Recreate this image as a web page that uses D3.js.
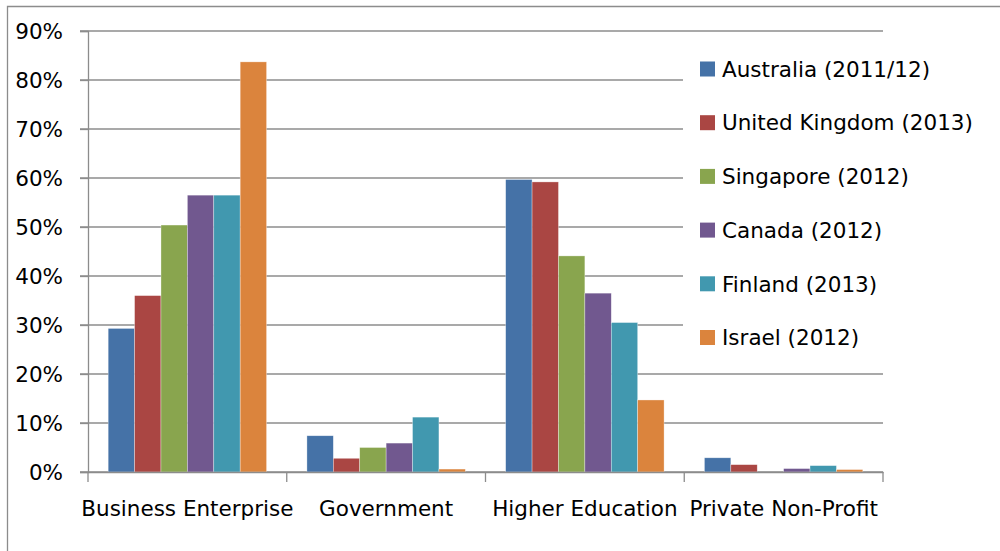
<!DOCTYPE html>
<html>
<head>
<meta charset="utf-8">
<script src="https://cdn.jsdelivr.net/npm/d3@7"></script>
<style>
  html, body { margin: 0; padding: 0; background: #fff; }
  svg { display: block; }
  text { font-family: "DejaVu Sans", sans-serif; fill: #000; }
</style>
</head>
<body>
<svg id="chart" width="1000" height="551"></svg>
<script>
// R&D expenditure share by sector of performance
const categories = ["Business Enterprise", "Government", "Higher Education", "Private Non-Profit"];
const seriesNames = ["Australia (2011/12)", "United Kingdom (2013)", "Singapore (2012)", "Canada (2012)", "Finland (2013)", "Israel (2012)"];
const seriesColors = ["#4572A7", "#AA4643", "#89A54E", "#71588F", "#4198AF", "#DB843D"];

// one value per category, in the order of `categories` (null = not reported)
const australia = [0.293, 0.074, 0.597, 0.029];
const unitedKingdom = [0.360, 0.028, 0.592, 0.015];
const singapore = [0.504, 0.050, 0.441, null];
const canada = [0.565, 0.059, 0.365, 0.007];
const finland = [0.565, 0.112, 0.305, 0.013];
const israel = [0.837, 0.006, 0.147, 0.005];
const seriesValues = [australia, unitedKingdom, singapore, canada, finland, israel];

const yTicks = [0, 0.1, 0.2, 0.3, 0.4, 0.5, 0.6, 0.7, 0.8, 0.9];

const svg = d3.select("#chart");
const fontSize = 21.5;
const gridColor = "#8c8c8c";

const plot = { left: 88, right: 883, top: 31, bottom: 472 };

// chart frame
svg.append("path")
  .attr("d", "M7.5,560 V6.5 H1010")
  .attr("fill", "none")
  .attr("stroke", gridColor)
  .attr("stroke-width", 1.3);

const x0 = d3.scaleBand()
  .domain(categories)
  .range([plot.left, plot.right])
  .paddingInner(0)
  .paddingOuter(0);

const x1 = d3.scaleBand()
  .domain(seriesNames)
  .range([0, x0.bandwidth()])
  .paddingInner(0)
  .paddingOuter(0.764);

const y = d3.scaleLinear()
  .domain([0, 0.9])
  .range([plot.bottom, plot.top]);

// horizontal gridlines
svg.append("g")
  .selectAll("line")
  .data(yTicks)
  .join("line")
  .attr("x1", plot.left - 8)
  .attr("x2", plot.right)
  .attr("y1", d => y(d))
  .attr("y2", d => y(d))
  .attr("stroke", gridColor)
  .attr("stroke-width", 1.3);

// y axis
const yAxis = svg.append("g")
  .attr("transform", `translate(${plot.left},0)`)
  .call(d3.axisLeft(y).tickValues(yTicks).tickFormat(d3.format(".0%")).tickSize(8).tickPadding(17));
yAxis.select(".domain").attr("stroke", gridColor).attr("stroke-width", 1.3);
yAxis.selectAll(".tick line").attr("stroke", gridColor).attr("stroke-width", 1.3);
yAxis.selectAll(".tick text")
  .attr("font-family", "DejaVu Sans, sans-serif")
  .attr("font-size", fontSize)
  .attr("fill", "#000")
  .attr("dy", "0.36em");

// bars
const groups = svg.append("g")
  .selectAll("g")
  .data(categories)
  .join("g")
  .attr("transform", d => `translate(${x0(d)},0)`);

groups.selectAll("rect")
  .data((cat, ci) => seriesNames.map((name, si) => ({ name, si, v: seriesValues[si][ci] })).filter(d => d.v !== null))
  .join("rect")
  .attr("x", d => x1(d.name))
  .attr("width", x1.bandwidth())
  .attr("y", d => y(d.v))
  .attr("height", d => y(0) - y(d.v))
  .attr("fill", d => seriesColors[d.si])
  .attr("stroke", "rgba(255,255,255,0.55)")
  .attr("stroke-width", 0.6);

// x axis
const xAxis = svg.append("g")
  .attr("transform", `translate(0,${plot.bottom})`)
  .call(d3.axisBottom(x0).tickSize(0).tickPadding(29));
xAxis.select(".domain").attr("stroke", gridColor).attr("stroke-width", 1.3);
xAxis.selectAll(".tick text")
  .attr("font-family", "DejaVu Sans, sans-serif")
  .attr("font-size", fontSize)
  .attr("fill", "#000");

// category separators below the axis
const boundaries = categories.map(c => x0(c)).concat([x0.range()[1]]);
svg.append("g")
  .selectAll("line")
  .data(boundaries)
  .join("line")
  .attr("x1", d => d)
  .attr("x2", d => d)
  .attr("y1", plot.bottom)
  .attr("y2", plot.bottom + 10)
  .attr("stroke", gridColor)
  .attr("stroke-width", 1.3);

// legend
const legend = svg.append("g");
legend.append("rect")
  .attr("x", 683).attr("y", 42)
  .attr("width", 210).attr("height", 316)
  .attr("fill", "#fff");

const rowY = d3.scalePoint()
  .domain(seriesNames)
  .range([69, 337.5]);

const items = legend.selectAll("g.item")
  .data(seriesNames)
  .join("g")
  .attr("class", "item")
  .attr("transform", d => `translate(700,${rowY(d)})`);

items.append("rect")
  .attr("x", 0).attr("y", -7.5)
  .attr("width", 15).attr("height", 15)
  .attr("fill", (d, i) => seriesColors[i]);

items.append("text")
  .attr("x", 22)
  .attr("dy", "0.36em")
  .attr("font-size", fontSize)
  .text(d => d);
</script>
</body>
</html>
